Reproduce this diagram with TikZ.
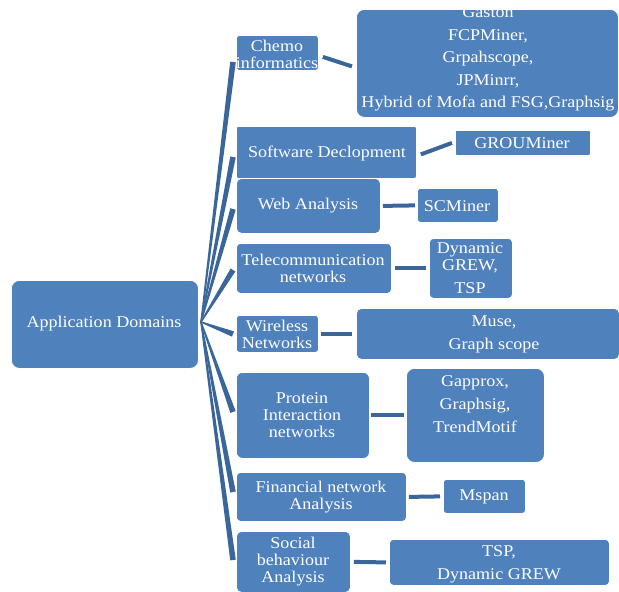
\documentclass[tikz,border=0pt]{standalone}
\usepackage{fontspec}
\setmainfont{Liberation Serif}[FakeStretch=1.1]
\usetikzlibrary{calc}
\definecolor{boxblue}{HTML}{4F81BD}
\definecolor{linkblue}{HTML}{3B6699}
\tikzset{
  box/.style={fill=boxblue, draw=white, line width=0.8pt, inner sep=0pt},
  txt/.style={text=white, align=center, inner sep=0pt, font=\fontsize{16.4}{17}\selectfont},
  txtwide/.style={txt, font=\fontsize{16.4}{23}\selectfont},
  link/.style={draw=linkblue, line width=4pt},
}
\newcommand\boxat[6]{%
  \node[box, rounded corners=#6, minimum width={(#4-#2)*1pt}, minimum height={(#5-#3)*1pt}, anchor=north west] (#1) at (#2,#3) {};}
\newcommand\fanto[1]{%
  \fill[linkblue] ($(root)!0.7pt!90:(#1)$) -- ($(#1)!2.8pt!-90:(root)$) -- ($(#1)!2.8pt!90:(root)$) -- ($(root)!0.7pt!-90:(#1)$) -- cycle;}
\begin{document}
\begin{tikzpicture}[x=1pt,y=-1pt]
\useasboundingbox (0,0) rectangle (619,592);
% boxes
\boxat{app}{11}{280}{198}{368}{8pt}
\boxat{chemo}{236}{35}{318}{70}{3pt}
\boxat{chemoR}{356}{9}{618}{117}{8pt}
\boxat{soft}{236}{126}{416}{178}{2pt}
\boxat{softR}{455}{130}{590}{155}{1pt}
\boxat{web}{236}{178}{380}{233}{5pt}
\boxat{webR}{417}{188}{498}{222}{3pt}
\boxat{tel}{236}{243}{391}{293}{4pt}
\boxat{telR}{429}{238}{512}{298}{4pt}
\boxat{wir}{236}{315}{318}{352}{3pt}
\boxat{wirR}{356}{308}{619}{359}{5pt}
\boxat{pro}{236}{372}{369}{458}{6pt}
\boxat{proR}{406}{368}{544}{462}{8pt}
\boxat{fin}{236}{472}{406}{521}{4pt}
\boxat{finR}{443}{479}{525}{513}{3pt}
\boxat{soc}{236}{531}{350}{592}{5pt}
\boxat{socR}{389}{539}{609}{585}{4pt}
% texts
\node[txt] (app-t) at (104,324) {Application Domains};
\node[txt] (chemo-t) at (277,54) {Chemo\\informatics};
\node[txt, font=\fontsize{16.4}{22.5}\selectfont] (chemoR-t) at (488,59) {Gaston\\FCPMiner,\\Grpahscope,\\JPMinrr,\\Hybrid of Mofa and FSG,Graphsig};
\node[txt] (soft-t) at (327,153) {Software Declopment};
\node[txt] (softR-t) at (522,143) {GROUMiner};
\node[txt] (web-t) at (308,206) {Web Analysis};
\node[txt] (webR-t) at (457,206) {SCMiner};
\node[txt] (tel-t) at (313,268) {Telecommunication\\networks};
\node[txt] (telR-t) at (470,268) {Dynamic\\GREW,\\[6pt]TSP};
\node[txt] (wir-t) at (277,334) {Wireless\\Networks};
\node[txtwide] (wirR-t) at (494,334) {Muse,\\Graph scope};
\node[txt] (pro-t) at (302,415) {Protein\\Interaction\\networks};
\node[txtwide] (proR-t) at (475,404) {Gapprox,\\Graphsig,\\TrendMotif};
\node[txt] (fin-t) at (321,497) {Financial network\\Analysis};
\node[txt] (finR-t) at (484,497) {Mspan};
\node[txt] (soc-t) at (293,562) {Social\\behaviour\\Analysis};
\node[txtwide] (socR-t) at (499,564) {TSP,\\Dynamic GREW};
% fan connectors
\coordinate (root) at (201,322);
\coordinate (e1) at (233,62);
\coordinate (e2) at (233,157);
\coordinate (e3) at (233,209);
\coordinate (e4) at (233,270);
\coordinate (e5) at (233,334);
\coordinate (e6) at (233,412);
\coordinate (e7) at (233,492);
\coordinate (e8) at (233,560);
\foreach \e in {e1,e2,e3,e4,e5,e6,e7,e8}{\fanto{\e}}
% right connectors
\draw[link] ([xshift=4pt,yshift=-4pt]chemo.east) -- ([xshift=-4pt,yshift=-3pt]chemoR.west);
\draw[link] ([xshift=4pt,yshift=-2pt]soft.east) -- ([xshift=-3pt]softR.west);
\draw[link] ([xshift=2pt]web.east) -- ([xshift=-2pt]webR.west);
\draw[link] ([xshift=3pt]tel.east) -- ([xshift=-3pt]telR.west);
\draw[link] ([xshift=2pt]wir.east) -- ([xshift=-4pt]wirR.west);
\draw[link] ([xshift=1pt]pro.east) -- ([xshift=-2pt]proR.west);
\draw[link] ([xshift=2pt]fin.east) -- ([xshift=-3pt]finR.west);
\draw[link] ([xshift=3pt]soc.east) -- ([xshift=-3pt]socR.west);
\end{tikzpicture}
\end{document}
